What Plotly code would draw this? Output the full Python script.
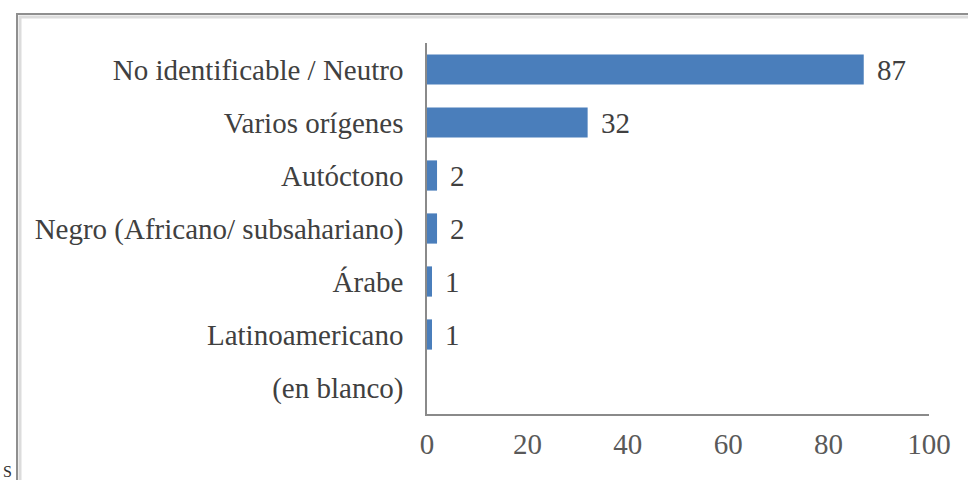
import plotly.graph_objects as go

# Categories (top to bottom) and their counts
categories = [
    "No identificable / Neutro",
    "Varios orígenes",
    "Autóctono",
    "Negro (Africano/ subsahariano)",
    "Árabe",
    "Latinoamericano",
    "(en blanco)",
]
values = [87, 32, 2, 2, 1, 1, None]
x_ticks = [0, 20, 40, 60, 80, 100]

W, H = 968, 480
L, R, T, B = 427, 39, 43, 66
plot_w = W - L - R
plot_h = H - T - B

FONT = "Liberation Serif"
FS = 29
BAR_COLOR = "#4a7ebb"
AXIS_COLOR = "#8a8a8a"


def px_x(px):
    return (px - L) / plot_w


def px_y(py):
    return (H - B - py) / plot_h


fig = go.Figure(
    go.Bar(
        x=values,
        y=categories,
        orientation="h",
        marker=dict(color=BAR_COLOR, line=dict(width=0)),
        hoverinfo="x+y",
    )
)

# value labels to the right of each bar
annotations = []
for cat, v in zip(categories, values):
    if v is None:
        continue
    annotations.append(
        dict(
            x=v, y=cat, xref="x", yref="y",
            text=str(v), showarrow=False,
            xanchor="left", yanchor="middle", xshift=11,
            font=dict(family=FONT, size=FS, color="#404040"),
        )
    )

# stray letter at the lower-left edge of the page
annotations.append(
    dict(
        x=px_x(1), y=px_y(461), xref="paper", yref="paper",
        text="S", showarrow=False, xanchor="left", yanchor="top",
        font=dict(family=FONT, size=16, color="#303030"),
    )
)

# framed panel with a soft grey edge
shapes = [
    dict(type="rect", xref="paper", yref="paper",
         x0=px_x(20), y0=px_y(17), x1=px_x(1100), y1=px_y(700),
         line=dict(color="#dcdcdc", width=3), layer="below"),
    dict(type="rect", xref="paper", yref="paper",
         x0=px_x(17), y0=px_y(14), x1=px_x(1100), y1=px_y(700),
         line=dict(color="#8f8f8f", width=2), layer="below"),
]

fig.update_layout(
    width=W, height=H,
    margin=dict(l=L, r=R, t=T, b=B, pad=0),
    paper_bgcolor="white", plot_bgcolor="white",
    font=dict(family=FONT, size=FS, color="#404040"),
    bargap=0.43,
    showlegend=False,
    annotations=annotations,
    shapes=shapes,
    xaxis=dict(
        range=[0, 100],
        tickvals=x_ticks,
        ticktext=[str(t) for t in x_ticks],
        showgrid=False, zeroline=False,
        showline=True, linecolor=AXIS_COLOR, linewidth=1.5,
        ticks="outside", ticklen=3, tickcolor="rgba(0,0,0,0)",
        tickfont=dict(family=FONT, size=FS, color="#595959"),
        fixedrange=True,
    ),
    yaxis=dict(
        categoryorder="array", categoryarray=categories,
        autorange="reversed",
        showgrid=False, zeroline=False,
        showline=True, linecolor=AXIS_COLOR, linewidth=1.5,
        ticks="outside", ticklen=16, tickcolor="rgba(0,0,0,0)",
        tickfont=dict(family=FONT, size=FS, color="#404040"),
        fixedrange=True,
    ),
)

fig.write_html("out.html")
